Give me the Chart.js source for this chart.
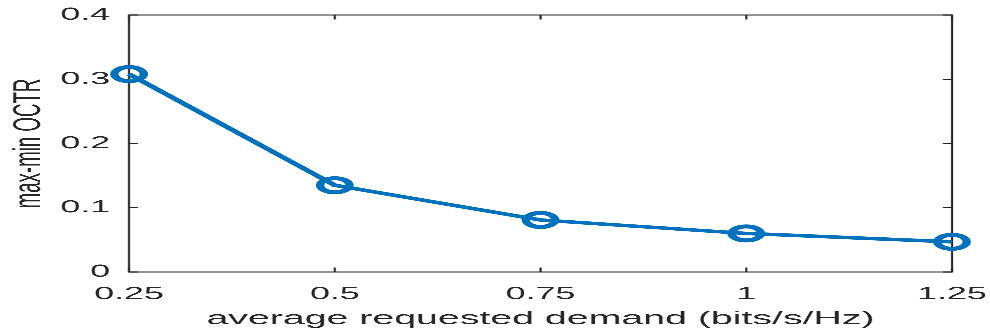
<!DOCTYPE html>
<html>
<head>
<meta charset="utf-8">
<script src="https://cdn.jsdelivr.net/npm/chart.js@4"></script>
<style>
  html, body { margin: 0; padding: 0; background: #fff; overflow: hidden; }
  #wrap { position: absolute; left: 0; top: 0; width: 471px; height: 330px; transform: scaleX(2.1019); transform-origin: 0 0; }
</style>
</head>
<body>
<div id="wrap"><canvas id="c"></canvas></div>
<script>
const demand = [0.25, 0.5, 0.75, 1, 1.25];
const octr = [0.308, 0.135, 0.081, 0.060, 0.047];
const xTickValues = [0.25, 0.5, 0.75, 1, 1.25];
const xTickLabels = ['0.25', '0.5', '0.75', '1', '1.25'];
const yTickValues = [0, 0.1, 0.2, 0.3, 0.4];
const yTickLabels = ['0', '0.1', '0.2', '0.3', '0.4'];
const xTitle = 'average requested demand (bits/s/Hz)';
const yTitle = 'max-min OCTR';

const axisColor = '#262626';
const fontFamily = '"Liberation Sans", Arial, Helvetica, sans-serif';

const frame = {
  id: 'frame',
  beforeDatasetsDraw(chart) {
    const { ctx, chartArea: a, scales: { x, y } } = chart;
    ctx.save();
    ctx.strokeStyle = axisColor;
    ctx.lineWidth = 1;
    ctx.strokeRect(a.left, a.top, a.right - a.left, a.bottom - a.top);
    ctx.beginPath();
    const th = 4.3, tv = 4.5;
    yTickValues.forEach(v => {
      const py = y.getPixelForValue(v);
      ctx.moveTo(a.left, py); ctx.lineTo(a.left + th, py);
      ctx.moveTo(a.right, py); ctx.lineTo(a.right - th, py);
    });
    xTickValues.forEach(v => {
      const px = x.getPixelForValue(v);
      ctx.moveTo(px, a.bottom); ctx.lineTo(px, a.bottom - tv);
      ctx.moveTo(px, a.top); ctx.lineTo(px, a.top + tv);
    });
    ctx.stroke();
    ctx.restore();
  }
};

new Chart(document.getElementById('c'), {
  type: 'line',
  data: {
    datasets: [{
      data: demand.map((d, i) => ({ x: d, y: octr[i] })),
      borderColor: '#0072BD',
      borderWidth: 3.5,
      pointStyle: 'circle',
      pointRadius: 7,
      pointBorderWidth: 4,
      pointBorderColor: '#0072BD',
      pointBackgroundColor: 'rgba(0,0,0,0)',
      tension: 0,
      clip: false
    }]
  },
  options: {
    responsive: true,
    maintainAspectRatio: false,
    devicePixelRatio: 3,
    animation: false,
    events: [],
    layout: { autoPadding: false, padding: { left: 0, right: 18.1, top: 15, bottom: 0 } },
    plugins: { legend: { display: false }, tooltip: { enabled: false } },
    scales: {
      x: {
        type: 'linear',
        min: 0.25, max: 1.25,
        grid: { display: false, drawTicks: false },
        border: { display: false },
        afterBuildTicks: s => { s.ticks = xTickValues.map(v => ({ value: v })); },
        afterFit: s => { s.height = 58; s.paddingLeft = 0; s.paddingRight = 0; },
        ticks: {
          color: axisColor,
          font: { family: fontFamily, size: 17 },
          padding: 12,
          maxRotation: 0,
          autoSkip: false,
          callback: (v) => xTickLabels[xTickValues.indexOf(v)]
        },
        title: {
          display: true,
          text: xTitle,
          color: axisColor,
          font: { family: fontFamily, size: 18.7 },
          padding: { top: 2, bottom: 0 }
        }
      },
      y: {
        min: 0, max: 0.4,
        grid: { display: false, drawTicks: false },
        border: { display: false },
        afterBuildTicks: s => { s.ticks = yTickValues.map(v => ({ value: v })); },
        afterFit: s => { s.width = 61.4; s.paddingTop = 0; s.paddingBottom = 0; },
        ticks: {
          color: axisColor,
          font: { family: fontFamily, size: 17 },
          padding: 9,
          callback: (v) => yTickLabels[yTickValues.indexOf(v)]
        },
        title: {
          display: true,
          text: yTitle,
          color: axisColor,
          font: { family: fontFamily, size: 18.7 },
          padding: { top: 2.5, bottom: 0 }
        }
      }
    }
  },
  plugins: [frame]
});
</script>
</body>
</html>
